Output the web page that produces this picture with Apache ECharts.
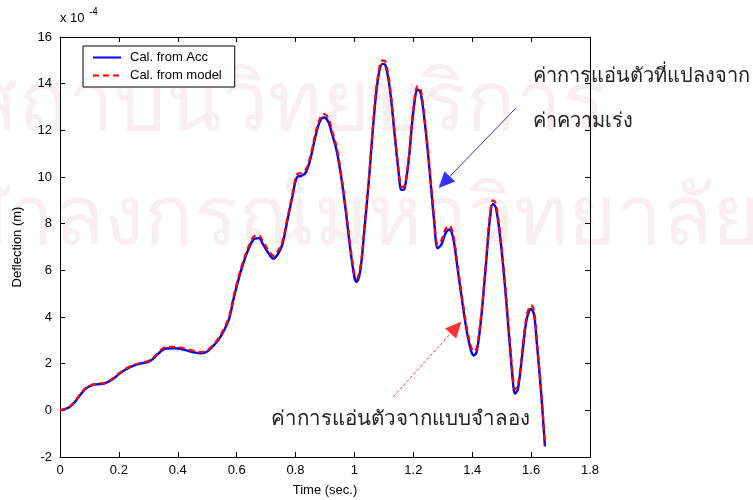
<!DOCTYPE html>
<html>
<head>
<meta charset="utf-8">
<script src="https://cdn.jsdelivr.net/npm/echarts@6/dist/echarts.min.js"></script>
<style>
  html, body { margin: 0; padding: 0; background: #fff; }
  #chart { width: 753px; height: 500px; }
</style>
</head>
<body>
<div id="chart"></div>
<script>
// time samples (sec.)
var times = [
  0.00, 0.03, 0.05, 0.07, 0.09, 0.11, 0.13, 0.15, 0.175, 0.20,
  0.22, 0.25, 0.28, 0.30, 0.32, 0.34, 0.36, 0.39, 0.42, 0.45,
  0.48, 0.50, 0.52, 0.54, 0.56, 0.575, 0.59, 0.605, 0.62, 0.64,
  0.66, 0.675, 0.69, 0.71, 0.725, 0.74, 0.755, 0.77, 0.79, 0.805,
  0.82, 0.835, 0.85, 0.865, 0.88, 0.895, 0.91, 0.925, 0.94, 0.955,
  0.97, 0.985, 1.00, 1.007, 1.02, 1.035, 1.05, 1.065, 1.08, 1.095,
  1.105, 1.12, 1.135, 1.15, 1.16, 1.17, 1.185, 1.20, 1.215, 1.225,
  1.24, 1.255, 1.27, 1.283, 1.295, 1.31, 1.322, 1.335, 1.35, 1.36,
  1.38, 1.395, 1.405, 1.415, 1.43, 1.445, 1.46, 1.47, 1.48, 1.495,
  1.51, 1.525, 1.54, 1.545, 1.555, 1.57, 1.585, 1.60, 1.61, 1.62,
  1.635, 1.647
];
// deflection x 1e-4 m, calculated from acceleration
var fromAcc = [
  0.00, 0.12, 0.35, 0.68, 0.95, 1.08, 1.12, 1.15, 1.30, 1.55,
  1.73, 1.92, 2.02, 2.08, 2.25, 2.50, 2.65, 2.66, 2.60, 2.50,
  2.44, 2.52, 2.75, 3.05, 3.50, 3.95, 4.80, 5.55, 6.20, 6.90,
  7.35, 7.38, 7.10, 6.70, 6.50, 6.70, 7.10, 8.00, 9.20, 10.00,
  10.05, 10.20, 10.75, 11.60, 12.30, 12.55, 12.40, 11.80, 11.10, 10.00,
  8.60, 7.00, 5.70, 5.50, 6.00, 7.90, 10.00, 12.40, 14.20, 14.85,
  14.80, 13.80, 12.00, 10.20, 9.45, 9.50, 10.80, 12.80, 13.75, 13.60,
  12.20, 10.30, 8.20, 6.95, 7.10, 7.60, 7.75, 7.40, 6.10, 5.20,
  3.50, 2.60, 2.35, 2.50, 3.90, 6.00, 8.20, 8.85, 8.70, 7.40,
  5.50, 3.20, 1.00, 0.72, 0.90, 2.40, 3.90, 4.35, 4.10, 2.80,
  0.60, -1.55
];
// deflection x 1e-4 m, calculated from model
var fromModel = [
  0.00, 0.14, 0.38, 0.72, 0.98, 1.10, 1.14, 1.17, 1.33, 1.58,
  1.76, 1.95, 2.05, 2.12, 2.30, 2.56, 2.72, 2.72, 2.66, 2.56,
  2.50, 2.58, 2.80, 3.12, 3.58, 4.05, 4.90, 5.65, 6.30, 7.00,
  7.47, 7.50, 7.22, 6.82, 6.62, 6.82, 7.22, 8.10, 9.30, 10.12,
  10.17, 10.32, 10.87, 11.72, 12.42, 12.70, 12.55, 11.95, 11.25, 10.12,
  8.72, 7.12, 5.84, 5.64, 6.12, 8.02, 10.12, 12.52, 14.35, 15.00,
  14.95, 13.95, 12.12, 10.32, 9.58, 9.62, 10.92, 12.92, 13.90, 13.75,
  12.35, 10.45, 8.35, 7.12, 7.28, 7.78, 7.92, 7.55, 6.25, 5.35,
  3.65, 2.78, 2.52, 2.66, 4.05, 6.12, 8.35, 9.00, 8.85, 7.55,
  5.65, 3.38, 1.18, 0.90, 1.06, 2.55, 4.05, 4.50, 4.25, 2.95,
  0.70, -1.50
];
var seriesNames = ['Cal. from Acc', 'Cal. from model'];

function pairs(xs, ys) {
  return xs.map(function (x, i) { return [x, ys[i]]; });
}

var chart = echarts.init(document.getElementById('chart'), null, { renderer: 'canvas' });
var font = 'Liberation Sans, Arial, sans-serif';
var thai = 'Noto Sans, DejaVu Sans, sans-serif';

var boxAxis = {
  axisLine: { show: true, onZero: false, lineStyle: { color: '#000', width: 1 } },
  axisTick: { show: true, inside: true, length: 5, lineStyle: { color: '#000' } },
  splitLine: { show: false }
};

var option = {
  backgroundColor: '#fff',
  animation: false,
  grid: { left: 60, right: 163, top: 37, bottom: 43, outerBoundsMode: 'none' },
  legend: {
    data: seriesNames,
    orient: 'vertical',
    left: 83, top: 46,
    padding: [5, 13, 5, 9],
    itemWidth: 28, itemHeight: 14, itemGap: 5,
    backgroundColor: '#fff',
    borderColor: '#000', borderWidth: 1, borderRadius: 0,
    itemStyle: { opacity: 0 },
    textStyle: { fontFamily: font, fontSize: 13, color: '#000', padding: [0, 0, 0, 4] }
  },
  graphic: [
    // faint watermark of the scanned thesis page
    { type: 'text', z: -10, left: -32, top: 66,
      style: { text: 'สถาบันวิทยบริการ', fill: '#f9eff2', font: '82px ' + thai } },
    { type: 'text', z: -10, left: -96, top: 180,
      style: { text: 'จุฬาลงกรณ์มหาวิทยาลัย', fill: '#f9eff2', font: '82px ' + thai } },
    { type: 'text', left: 60, top: 12,
      style: { text: 'x 10', fill: '#000', font: '13px ' + font } },
    { type: 'text', left: 89, top: 7,
      style: { text: '-4', fill: '#000', font: '10px ' + font } },
    { type: 'text', left: 533, top: 66,
      style: { text: 'ค่าการแอ่นตัวที่แปลงจาก', fill: '#222', font: '20px ' + thai } },
    { type: 'text', left: 533, top: 111,
      style: { text: 'ค่าความเร่ง', fill: '#222', font: '20px ' + thai } },
    { type: 'text', left: 271, top: 409,
      style: { text: 'ค่าการแอ่นตัวจากแบบจำลอง', fill: '#222', font: '20.5px ' + thai } }
  ],
  xAxis: [
    Object.assign({
      type: 'value', min: 0, max: 1.8, interval: 0.2,
      name: 'Time (sec.)', nameLocation: 'middle', nameGap: 27,
      nameTextStyle: { fontFamily: font, fontSize: 13, color: '#000' },
      axisLabel: { fontFamily: font, fontSize: 13, color: '#000', margin: 7 }
    }, boxAxis),
    Object.assign({
      type: 'value', position: 'top', min: 0, max: 1.8, interval: 0.2,
      axisLabel: { show: false }
    }, boxAxis)
  ],
  yAxis: [
    Object.assign({
      type: 'value', min: -2, max: 16, interval: 2,
      name: 'Deflection (m)', nameLocation: 'middle', nameGap: 36, nameRotate: 90,
      nameTextStyle: { fontFamily: font, fontSize: 13, color: '#000' },
      axisLabel: { fontFamily: font, fontSize: 13, color: '#000', margin: 8 }
    }, boxAxis),
    Object.assign({
      type: 'value', position: 'right', min: -2, max: 16, interval: 2,
      axisLabel: { show: false }
    }, boxAxis)
  ],
  series: [
    {
      name: seriesNames[0], type: 'line', data: pairs(times, fromAcc),
      smooth: 0.35, symbol: 'none', color: '#0000ff',
      lineStyle: { color: '#0000ff', width: 2.4 },
      markLine: {
        silent: true, animation: false,
        label: { show: false },
        symbol: ['none', 'triangle'], symbolSize: [15, 16],
        lineStyle: { color: '#3333ff', width: 1, type: 'solid' },
        data: [[{ coord: [1.548, 12.95] }, { coord: [1.305, 9.78] }]]
      }
    },
    {
      name: seriesNames[1], type: 'line', data: pairs(times, fromModel),
      smooth: 0.35, symbol: 'none', color: '#ff0000',
      lineStyle: { color: '#ff0000', width: 2.2, type: [6, 4] },
      markLine: {
        silent: true, animation: false,
        label: { show: false },
        symbol: ['none', 'triangle'], symbolSize: [15, 16],
        lineStyle: { color: '#ff3333', width: 1, type: [3, 2] },
        data: [[{ coord: [1.132, 0.585] }, { coord: [1.345, 3.55] }]]
      }
    }
  ]
};
chart.setOption(option);
</script>
</body>
</html>
